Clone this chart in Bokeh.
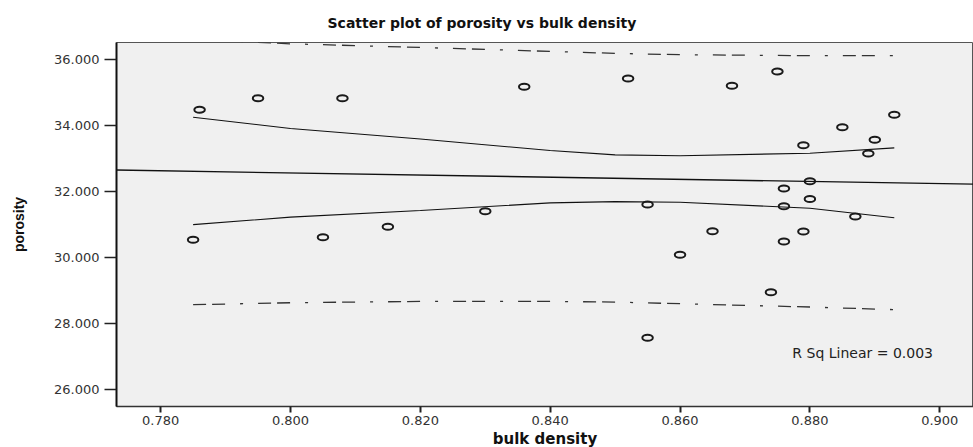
import numpy as np
from bokeh.plotting import figure
from bokeh.models import Range1d, FixedTicker, Label, PrintfTickFormatter, ColumnDataSource
from bokeh.embed import file_html
from bokeh.resources import INLINE

# --- observations -----------------------------------------------------------
bulk_density = [0.785, 0.786, 0.795, 0.805, 0.808, 0.815, 0.830, 0.836, 0.852,
                0.855, 0.855, 0.860, 0.865, 0.868, 0.874, 0.875, 0.876, 0.876,
                0.876, 0.879, 0.879, 0.880, 0.880, 0.885, 0.887, 0.889, 0.890,
                0.893]
porosity = [30.54, 34.49, 34.84, 30.62, 34.84, 30.94, 31.41, 35.19, 35.44,
            31.61, 27.57, 30.09, 30.80, 35.22, 28.95, 35.65, 32.10, 31.56,
            30.49, 33.41, 30.79, 32.32, 31.78, 33.96, 31.25, 33.16, 33.58,
            34.34]

# --- 95% interval curves (mean and individual) -------------------------------
band_x = [0.785, 0.800, 0.820, 0.840, 0.850, 0.860, 0.880, 0.893]
mean_hi = [34.26, 33.92, 33.60, 33.25, 33.12, 33.09, 33.17, 33.33]
mean_lo = [31.00, 31.23, 31.43, 31.66, 31.70, 31.68, 31.50, 31.21]
pred_hi = [36.63, 36.49, 36.38, 36.26, 36.20, 36.16, 36.13, 36.13]
pred_lo = [28.57, 28.63, 28.67, 28.67, 28.65, 28.60, 28.50, 28.42]

r_sq_linear = 0.003
chart_title = "Scatter plot of porosity vs bulk density"

# --- axes -------------------------------------------------------------------
x_ticks = [0.78, 0.80, 0.82, 0.84, 0.86, 0.88, 0.90]
y_ticks = [26, 28, 30, 32, 34, 36]
X_LO, X_HI = 0.7732, 0.9052
Y_LO, Y_HI = 25.48, 36.53

# least-squares line through the observations
slope, intercept = np.polyfit(bulk_density, porosity, 1)
fit_x = np.array([X_LO, X_HI])
fit_y = intercept + slope * fit_x

p = figure(frame_width=857, frame_height=364,
           output_backend="svg", toolbar_location=None,
           x_range=Range1d(X_LO, X_HI), y_range=Range1d(Y_LO, Y_HI),
           min_border_left=116, min_border_right=0,
           min_border_top=42, min_border_bottom=41,
           background_fill_color="#f0f0f0", border_fill_color="white")
p.grid.visible = False
p.outline_line_color = "#555555"
p.outline_line_width = 1

# title, shifted left so it sits over the middle of the whole figure
p.title.text = chart_title
p.title.text_font = "DejaVu Sans"
p.title.text_font_style = "bold"
p.title.text_font_size = "14px"
p.title.text_color = "#111111"
p.title.align = "left"
p.title.offset = 211
p.title.standoff = 23

# x axis
xa = p.xaxis[0]
xa.ticker = FixedTicker(ticks=x_ticks)
xa.formatter = PrintfTickFormatter(format="%.3f")
xa.axis_label = "bulk density"
xa.axis_label_text_font = "DejaVu Sans"
xa.axis_label_text_font_style = "bold"
xa.axis_label_text_font_size = "15px"
xa.axis_label_text_color = "#111111"
xa.axis_label_standoff = 2
xa.major_label_text_font = "DejaVu Sans"
xa.major_label_text_font_size = "13px"
xa.major_label_text_color = "#333333"
xa.major_label_standoff = 3
xa.major_tick_out = 6
xa.major_tick_in = 0
xa.major_tick_line_width = 2
xa.major_tick_line_color = "#222222"
xa.minor_tick_line_color = None
xa.axis_line_color = "#333333"
xa.axis_line_width = 1.5

# y axis
ya = p.yaxis[0]
ya.ticker = FixedTicker(ticks=y_ticks)
ya.formatter = PrintfTickFormatter(format="%.3f")
ya.axis_label = "porosity"
ya.axis_label_text_font = "Liberation Sans"
ya.axis_label_text_font_style = "bold"
ya.axis_label_text_font_size = "14px"
ya.axis_label_text_color = "#111111"
ya.axis_label_standoff = 24
ya.major_label_text_font = "DejaVu Sans"
ya.major_label_text_font_size = "13px"
ya.major_label_text_color = "#333333"
ya.major_label_standoff = 5
ya.major_tick_out = 12
ya.major_tick_in = 0
ya.major_tick_line_width = 1.5
ya.major_tick_line_color = "#222222"
ya.minor_tick_line_color = None
ya.axis_line_color = "#111111"
ya.axis_line_width = 2

# fit line and interval curves
p.line(fit_x, fit_y, line_color="#111111", line_width=1.3)
p.line(band_x, mean_hi, line_color="#111111", line_width=1.1)
p.line(band_x, mean_lo, line_color="#111111", line_width=1.1)
p.line(band_x, pred_hi, line_color="#333333", line_width=1.3, line_dash="13 6 13 15 3 15")
p.line(band_x, pred_lo, line_color="#333333", line_width=1.3, line_dash="13 6 13 15 3 15")

# observations as open rings
src = ColumnDataSource(dict(x=bulk_density, y=porosity))
p.ellipse(x="x", y="y", width=10.5, height=6, width_units="screen", height_units="screen",
          source=src, fill_color=None, line_color="#1a1a1a", line_width=2)

p.add_layout(Label(x=0.8773, y=27.10, text=f"R Sq Linear = {r_sq_linear:.3f}",
                   text_font="DejaVu Sans", text_font_size="14px",
                   text_baseline="middle", text_color="#222222"))

open("out.html", "w").write(file_html(p, INLINE))
